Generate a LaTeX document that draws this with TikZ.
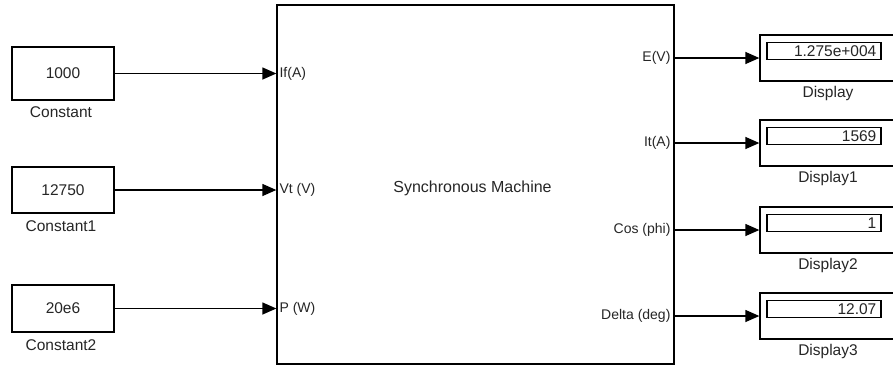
\documentclass[tikz,border=0pt]{standalone}
\usepackage{fontspec}
\setmainfont{Liberation Sans}
\usetikzlibrary{arrows.meta}
\tikzset{
  blk/.style={draw=black, line width=1.3pt, rectangle, inner sep=0pt},
  txt/.style={inner sep=0pt, text=black!85, font=\fontsize{15.5}{18}\selectfont},
  port/.style={inner sep=0pt, text=black!85, font=\fontsize{14}{16}\selectfont},
  arr/.style={line width=1.3pt, -{Triangle[length=14pt,width=12pt]}},
}
\begin{document}
\begin{tikzpicture}[x=1pt,y=-1pt]
\clip (0,0) rectangle (893,367);
\fill[white] (0,0) rectangle (893,367);
% main block
\node[blk, minimum width=397pt, minimum height=359pt] (sm) at (475.5,184.5) {};
\node[txt, font=\fontsize{16}{18}\selectfont] (smlab) at (472.5,188) {Synchronous Machine};
% constants
\node[blk, minimum width=102pt, minimum height=53pt] (c0) at (63,73.5) {};
\node[txt] (c0v) at (c0.center) {1000};
\node[txt] (c0l) at (61,112) {Constant};
\node[blk, minimum width=102pt, minimum height=46pt] (c1) at (63,190) {};
\node[txt] (c1v) at (c1.center) {12750};
\node[txt] (c1l) at (61,226) {Constant1};
\node[blk, minimum width=102pt, minimum height=47pt] (c2) at (63,308.5) {};
\node[txt] (c2v) at (c2.center) {20e6};
\node[txt] (c2l) at (61,345) {Constant2};
% input ports
\coordinate (p0) at (sm.west |- c0.east);
\coordinate (p1) at (sm.west |- c1.east);
\coordinate (p2) at (sm.west |- c2.east);
\node[port, anchor=west] (p0l) at ([xshift=3pt]p0) {If(A)};
\node[port, anchor=west] (p1l) at ([xshift=3pt]p1) {Vt (V)};
\node[port, anchor=west] (p2l) at ([xshift=3pt]p2) {P (W)};
\draw[arr] (c0.east) -- (p0);
\draw[arr] (c1.east) -- (p1);
\draw[arr] (c2.east) -- (p2);
% displays
\foreach \n/\y/\v/\lab in {0/58/1.275e+004/Display, 1/143/1569/Display1, 2/230/1/Display2, 3/316/12.07/Display3}{
  \node[blk, minimum width=136pt, minimum height=46pt] (d\n) at (828,\y) {};
  \node[draw=black, line width=1.1pt, inner sep=0pt, minimum width=114pt, minimum height=17pt] (d\n i) at (824,\y-7) {};
  \node[txt, anchor=east] (d\n v) at ([xshift=-5pt]d\n i.east) {\v};
  \node[txt] (d\n l) at (828,\y+35) {\lab};
  \coordinate (o\n) at (sm.east |- d\n.west);
  \draw[arr] (o\n) -- (d\n.west);
}
\node[port, anchor=east] (o0l) at ([xshift=-4pt]o0) {E(V)};
\node[port, anchor=east] (o1l) at ([xshift=-4pt]o1) {It(A)};
\node[port, anchor=east] (o2l) at ([xshift=-4pt]o2) {Cos (phi)};
\node[port, anchor=east] (o3l) at ([xshift=-4pt]o3) {Delta (deg)};
\end{tikzpicture}
\end{document}
